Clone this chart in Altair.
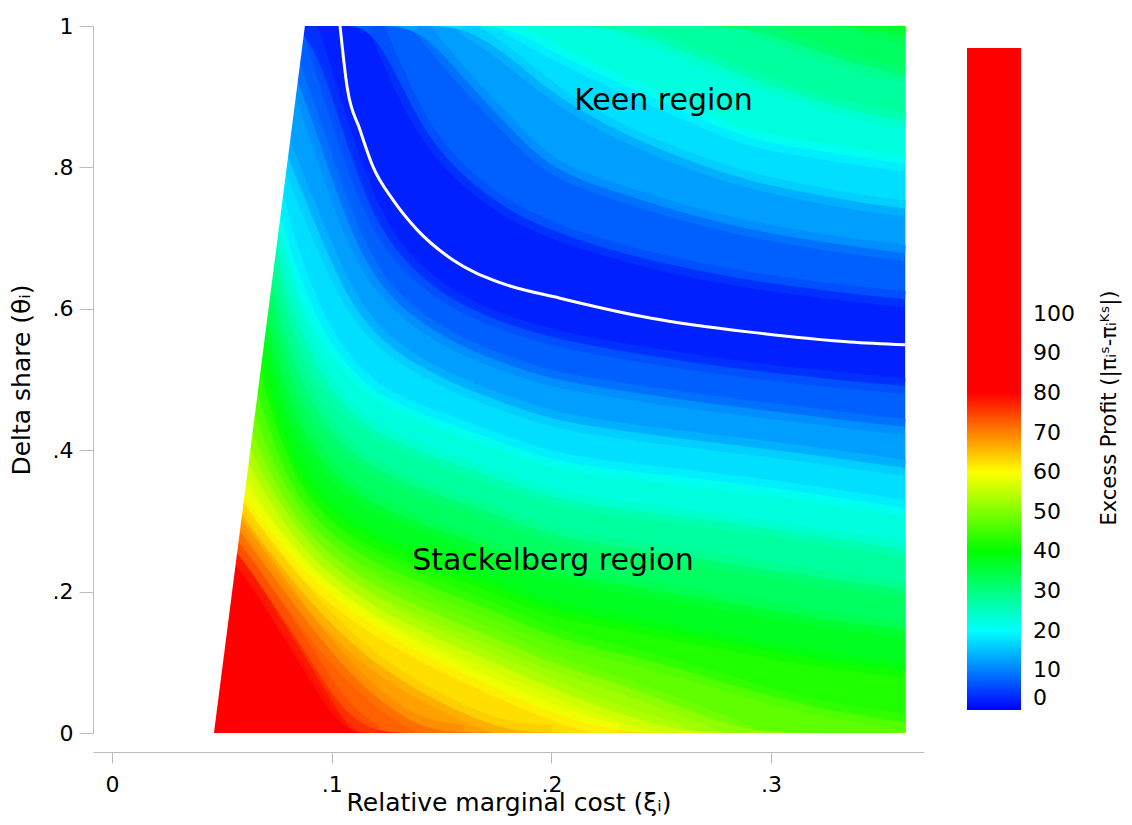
import altair as alt
import pandas as pd

FONT = "DejaVu Sans"

# Relative marginal cost values at which the iso-profit levels are tabulated
X_GRID = [0.045, 0.06, 0.075, 0.09, 0.105, 0.12, 0.14, 0.16, 0.18, 0.20,
          0.23, 0.26, 0.29, 0.32, 0.34, 0.361]

# Below the zero curve (Stackelberg side): delta share where excess profit = level
D05 = [1.00, 1.00, 1.00, 1.00, 0.850, 0.715, 0.644, 0.603, 0.578, 0.559, 0.541, 0.526, 0.513, 0.503, 0.496, 0.491]
D10 = [1.00, 1.00, 1.00, 0.880, 0.735, 0.635, 0.580, 0.545, 0.521, 0.500, 0.485, 0.471, 0.459, 0.448, 0.440, 0.433]
D15 = [1.00, 1.00, 0.850, 0.740, 0.625, 0.560, 0.517, 0.488, 0.465, 0.443, 0.428, 0.416, 0.405, 0.393, 0.384, 0.375]
D20 = [1.00, 0.950, 0.740, 0.600, 0.525, 0.480, 0.452, 0.430, 0.408, 0.385, 0.372, 0.362, 0.351, 0.338, 0.328, 0.318]
D25 = [1.00, 0.900, 0.665, 0.530, 0.462, 0.425, 0.398, 0.377, 0.355, 0.332, 0.318, 0.306, 0.294, 0.279, 0.270, 0.260]
D30 = [1.00, 0.850, 0.585, 0.465, 0.405, 0.372, 0.346, 0.325, 0.303, 0.278, 0.264, 0.250, 0.236, 0.220, 0.212, 0.203]
D35 = [0.950, 0.750, 0.508, 0.405, 0.352, 0.322, 0.296, 0.275, 0.252, 0.226, 0.211, 0.195, 0.179, 0.162, 0.154, 0.146]
D40 = [0.900, 0.650, 0.430, 0.345, 0.300, 0.272, 0.248, 0.226, 0.202, 0.174, 0.158, 0.140, 0.122, 0.105, 0.097, 0.089]
D45 = [0.750, 0.550, 0.385, 0.310, 0.268, 0.240, 0.213, 0.189, 0.165, 0.136, 0.113, 0.090, 0.060, 0.036, 0.025, 0.015]
D50 = [0.600, 0.450, 0.345, 0.278, 0.238, 0.207, 0.178, 0.152, 0.127, 0.098, 0.070, 0.035, 0.0, 0.0, 0.0, 0.0]
D55 = [0.500, 0.390, 0.310, 0.249, 0.210, 0.178, 0.146, 0.117, 0.092, 0.063, 0.028, 0.0, 0.0, 0.0, 0.0, 0.0]
D60 = [0.420, 0.330, 0.275, 0.220, 0.183, 0.149, 0.114, 0.083, 0.056, 0.028, 0.0, 0.0, 0.0, 0.0, 0.0, 0.0]
D65 = [0.380, 0.303, 0.243, 0.186, 0.138, 0.098, 0.058, 0.027, 0.003, 0.0, 0.0, 0.0, 0.0, 0.0, 0.0, 0.0]
D70 = [0.340, 0.278, 0.215, 0.152, 0.095, 0.050, 0.006, 0.0, 0.0, 0.0, 0.0, 0.0, 0.0, 0.0, 0.0, 0.0]
D75 = [0.300, 0.245, 0.175, 0.105, 0.030, 0.0, 0.0, 0.0, 0.0, 0.0, 0.0, 0.0, 0.0, 0.0, 0.0, 0.0]
D80 = [0.280, 0.225, 0.150, 0.075, 0.0, 0.0, 0.0, 0.0, 0.0, 0.0, 0.0, 0.0, 0.0, 0.0, 0.0, 0.0]

# Above the zero curve (Keen side): delta share where excess profit = level
U05 = [1, 1, 1, 1, 1, 1.0, 0.855, 0.785, 0.740, 0.710, 0.680, 0.658, 0.640, 0.628, 0.620, 0.614]
U10 = [1, 1, 1, 1, 1, 1, 1.0, 0.925, 0.860, 0.795, 0.765, 0.735, 0.712, 0.696, 0.687, 0.679]
U15 = [1, 1, 1, 1, 1, 1, 1, 1.0, 0.960, 0.905, 0.850, 0.812, 0.780, 0.762, 0.750, 0.742]
U20 = [1, 1, 1, 1, 1, 1, 1, 1, 1.0, 0.965, 0.920, 0.880, 0.838, 0.825, 0.814, 0.806]
U25 = [1, 1, 1, 1, 1, 1, 1, 1, 1, 1, 1.0, 0.965, 0.925, 0.895, 0.878, 0.865]
U30 = [1, 1, 1, 1, 1, 1, 1, 1, 1, 1, 1, 1, 1.0, 0.965, 0.945, 0.930]
U35 = [1, 1, 1, 1, 1, 1, 1, 1, 1, 1, 1, 1, 1, 1, 1.0, 0.985]

LOWER_LEVELS = [5, 10, 15, 20, 25, 30, 35, 40, 45, 50, 55, 60, 65, 70, 75, 80]
LOWER_CURVES = [D05, D10, D15, D20, D25, D30, D35, D40, D45, D50, D55, D60, D65, D70, D75, D80]
UPPER_LEVELS = [5, 10, 15, 20, 25, 30, 35]
UPPER_CURVES = [U05, U10, U15, U20, U25, U30, U35]

# Zero excess-profit curve separating the two regions
CURVE_X = [0.1038, 0.107, 0.1129, 0.1188, 0.1279, 0.1388, 0.1552, 0.1766, 0.2039, 0.2449, 0.2904, 0.3359, 0.361]
CURVE_Y = [1.000, 0.914, 0.853, 0.801, 0.754, 0.712, 0.669, 0.637, 0.615, 0.587, 0.567, 0.553, 0.549]

# Left edge of the feasible parameter region
EDGE_X = [0.040, 0.0464, 0.0878]
EDGE_Y = [0.0, 0.0, 1.0]

# Region labels
LABEL_TEXT = ["Keen region", "Stackelberg region"]
LABEL_X = [0.251, 0.2007]
LABEL_Y = [0.894, 0.243]

# Colour bar
COLOR_DOMAIN = [0, 20, 40, 60, 80, 167]
COLOR_RANGE = ["#0000ff", "#00ffff", "#00ff00", "#ffff00", "#ff0000", "#ff0000"]
# same colours for the contour strokes; the top stop differs so Vega-Lite keeps
# this scale's (hidden) legend apart from the colour bar
STROKE_DOMAIN = [0, 20, 40, 60, 80, 168]
LEGEND_VALUES = [0, 10, 20, 30, 40, 50, 60, 70, 80, 90, 100]
LEGEND_TITLE = "Excess Profit (|πᵢˢ-πᵢᴷˢ|)"

X_TICKS = [0, 0.1, 0.2, 0.3]
Y_TICKS = [0, 0.2, 0.4, 0.6, 0.8, 1.0]

AXIS_GREY = "#bcbcbc"
STEP = 2.5        # half the spacing between contour levels
FEATHER_W = 16    # width of the soft strokes that blend neighbouring bands
FEATHER_OPACITY = 0.5

x_enc = alt.X(
    "x:Q",
    scale=alt.Scale(domain=[-0.00865, 0.3696], nice=False, zero=False),
    axis=alt.Axis(
        values=X_TICKS,
        labelExpr="datum.value == 0 ? '0' : replace(format(datum.value, '.1f'), '0.', '.')",
        title="Relative marginal cost (ξᵢ)",
        offset=19,
        tickSize=11,
        labelPadding=11,
        titlePadding=-5,
    ),
)
y_enc = alt.Y(
    "y:Q",
    scale=alt.Scale(domain=[0, 1], nice=False, zero=False),
    axis=alt.Axis(
        values=Y_TICKS,
        labelExpr="datum.value == 0 ? '0' : datum.value == 1 ? '1' : replace(format(datum.value, '.1f'), '0.', '.')",
        title="Delta share (θᵢ)",
        tickSize=14,
        labelPadding=6,
        titlePadding=18,
    ),
)
color_enc = alt.Color(
    "level:Q",
    scale=alt.Scale(domain=COLOR_DOMAIN, range=COLOR_RANGE, interpolate="rgb"),
    legend=alt.Legend(
        title=None,
        orient="none",
        legendX=874,
        legendY=22,
        direction="vertical",
        gradientLength=662,
        gradientThickness=54,
        gradientStrokeWidth=0,
        values=LEGEND_VALUES,
        labelFont=FONT,
        labelFontSize=22,
        labelColor="black",
        labelOffset=12,
        labelOverlap=False,
    ),
)
stroke_enc = alt.Stroke(
    "level:Q",
    scale=alt.Scale(domain=STROKE_DOMAIN, range=COLOR_RANGE, interpolate="rgb"),
    legend=None,
)


def band(level, lows, highs):
    df = pd.DataFrame({"x": X_GRID, "y": lows, "y2": highs, "level": level})
    return alt.Chart(df).mark_area(interpolate="basis").encode(
        x=x_enc, y=y_enc, y2="y2:Q", color=color_enc
    )


def contour_stroke(level, ys):
    # keep the stretch of the contour that lies inside the unit square,
    # plus the neighbouring point where it meets the edge
    keep = []
    for i, y in enumerate(ys):
        near = [j for j in (i - 1, i, i + 1) if 0 <= j < len(ys)]
        if any(0 < ys[j] < 1 for j in near):
            keep.append(i)
    df = pd.DataFrame({
        "x": [X_GRID[i] for i in keep],
        "y": [ys[i] for i in keep],
        "level": level,
    })
    return alt.Chart(df).mark_line(
        interpolate="basis", strokeWidth=FEATHER_W, opacity=FEATHER_OPACITY,
        strokeCap="butt", clip=True,
    ).encode(x=x_enc, y=y_enc, stroke=stroke_enc)


n = len(X_GRID)
layers = [band(STEP, [0.0] * n, [1.0] * n)]
for lev, ys in zip(LOWER_LEVELS, LOWER_CURVES):
    layers.append(band(lev + STEP, [0.0] * n, ys))
for lev, ys in zip(UPPER_LEVELS, UPPER_CURVES):
    layers.append(band(lev + STEP, ys, [1.0] * n))
for lev, ys in zip(LOWER_LEVELS, LOWER_CURVES):
    layers.append(contour_stroke(lev, ys))
for lev, ys in zip(UPPER_LEVELS, UPPER_CURVES):
    layers.append(contour_stroke(lev, ys))

edge_df = pd.DataFrame({"x": EDGE_X, "y": EDGE_Y, "y2": [1.0] * len(EDGE_X)})
layers.append(
    alt.Chart(edge_df).mark_area(color="white").encode(x=x_enc, y=y_enc, y2="y2:Q")
)

curve_df = pd.DataFrame({"x": CURVE_X, "y": CURVE_Y})
layers.append(
    alt.Chart(curve_df).mark_line(color="white", strokeWidth=3, interpolate="monotone").encode(
        x=x_enc, y=y_enc
    )
)

label_df = pd.DataFrame({"x": LABEL_X, "y": LABEL_Y, "text": LABEL_TEXT})
layers.append(
    alt.Chart(label_df).mark_text(font=FONT, fontSize=30, color="black").encode(
        x=x_enc, y=y_enc, text="text:N"
    )
)

# Colour-bar title, rotated to read upwards beside the bar labels
layers.append(
    alt.Chart(pd.DataFrame({"t": [LEGEND_TITLE]})).mark_text(
        font=FONT, fontSize=21, color="black", angle=270, align="center", baseline="middle"
    ).encode(x=alt.value(1017), y=alt.value(382), text="t:N")
)

chart = (
    alt.layer(*layers)
    .properties(
        width=831,
        height=707,
        padding={"left": 93, "top": 26, "right": 208, "bottom": 92},
        autosize=alt.AutoSizeParams(type="none"),
        background="white",
    )
    .configure_view(strokeWidth=0)
    .configure_axis(
        grid=False,
        domainColor=AXIS_GREY,
        tickColor=AXIS_GREY,
        labelFont=FONT,
        labelFontSize=22,
        labelColor="black",
        titleFont=FONT,
        titleFontSize=25,
        titleFontWeight="normal",
        titleColor="black",
    )
)

chart.save("out.html", embed_options={"renderer": "svg", "actions": False})
